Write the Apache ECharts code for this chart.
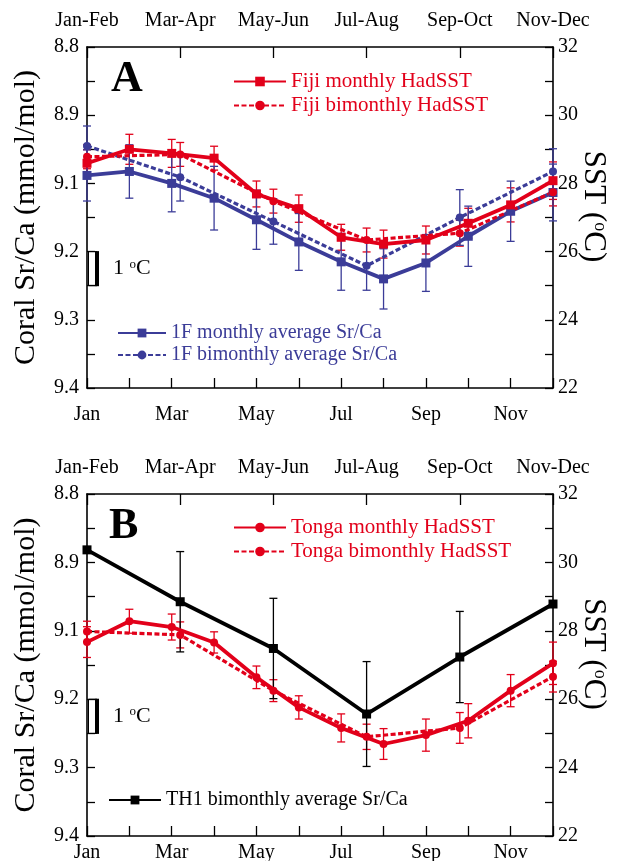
<!DOCTYPE html>
<html><head><meta charset="utf-8">
<script src="https://cdn.jsdelivr.net/npm/echarts@6/dist/echarts.min.js"></script>
<style>html,body{margin:0;padding:0;background:#fff}#c{width:617px;height:861px}</style>
</head><body><div id="c"></div><script>
// ---------- tick labels / categories ----------
const monthTickLabels = ['Jan','Mar','May','Jul','Sep','Nov'];
const bimonthLabels = ['Jan-Feb','Mar-Apr','May-Jun','Jul-Aug','Sep-Oct','Nov-Dec'];
const srcaTickLabels = ['8.8','8.9','9.1','9.2','9.3','9.4'];
const months = [0,1,2,3,4,5,6,7,8,9,10,11];
const bimonths = [0,1,2,3,4,5];

// ---------- Panel A (Fiji / 1F) ----------
const fijiMonthlySST     = [28.59, 29.00, 28.88, 28.74, 27.69, 27.26, 26.42, 26.22, 26.34, 26.83, 27.37, 28.08];
const fijiMonthlySSTErr  = [0.40, 0.44, 0.41, 0.35, 0.38, 0.40, 0.38, 0.41, 0.41, 0.44, 0.50, 0.55];
const fijiBimonthlySST    = [28.78, 28.85, 27.48, 26.34, 26.54, 27.74];
const fijiBimonthlySSTErr = [0.35, 0.35, 0.35, 0.35, 0.38, 0.40];
const f1MonthlySrCa      = [9.026, 9.019, 9.040, 9.066, 9.104, 9.143, 9.178, 9.208, 9.180, 9.133, 9.089, 9.056];
const f1MonthlySrCaErr   = [0.045, 0.047, 0.050, 0.056, 0.052, 0.050, 0.050, 0.053, 0.050, 0.053, 0.053, 0.050];
const f1BimonthlySrCa    = [8.974, 9.029, 9.107, 9.185, 9.100, 9.019];
const f1BimonthlySrCaErr = [0.035, 0.042, 0.040, 0.043, 0.049, 0.040];

// ---------- Panel B (Tonga / TH1) ----------
const tongaMonthlySST     = [27.67, 28.28, 28.11, 27.66, 26.64, 25.76, 25.16, 24.69, 24.95, 25.37, 26.25, 27.05];
const tongaMonthlySSTErr  = [0.45, 0.35, 0.38, 0.31, 0.33, 0.34, 0.41, 0.45, 0.47, 0.50, 0.47, 0.62];
const tongaBimonthlySST    = [27.98, 27.88, 26.25, 24.90, 25.16, 26.66];
const tongaBimonthlySSTErr = [0.30, 0.38, 0.32, 0.37, 0.45, 0.45];
const th1BimonthlySrCa    = [8.898, 8.989, 9.071, 9.186, 9.086, 8.993];
const th1BimonthlySrCaErr = [null, 0.088, 0.088, 0.092, 0.080, null];

// 1 degC scale bar (in SST units)
const scaleBar = [26, 25];

// ---------- styling ----------
const FONT = 'Liberation Serif';
const RED = '#e2001a', BLUE = '#3b3c98', BLACK = '#000000';
const SUP = { o: { fontSize: 13, fontFamily: FONT, verticalAlign: 'top', color: '#000' } };

const pairs = (xs, ys) => xs.map((x, i) => [x, ys[i]]);
const errTriples = (xs, ys, es) => xs.map((x, i) => [x, ys[i], es[i]]).filter(d => d[2] != null);

function lineSeries(name, xi, yi, xs, ys, color, symbol, size, dashed) {
  return {
    name, type: 'line', xAxisIndex: xi, yAxisIndex: yi, data: pairs(xs, ys),
    symbol, symbolSize: size, showSymbol: true, clip: false, z: 4, animation: false,
    lineStyle: { color, width: dashed ? 3.2 : 3.8, type: dashed ? [5, 2.5] : 'solid' },
    itemStyle: { color }, emphasis: { disabled: true }
  };
}
function errSeries(xi, yi, xs, ys, es, color) {
  return {
    type: 'custom', xAxisIndex: xi, yAxisIndex: yi, clip: false, silent: true, z: 3, animation: false,
    data: errTriples(xs, ys, es),
    renderItem(params, api) {
      const x = api.value(0), y = api.value(1), e = api.value(2);
      const t = api.coord([x, y - e]), b = api.coord([x, y + e]);
      const w = 4;
      const st = { stroke: color, lineWidth: 1.3, fill: null };
      return { type: 'group', children: [
        { type: 'line', shape: { x1: t[0], y1: t[1], x2: b[0], y2: b[1] }, style: st },
        { type: 'line', shape: { x1: t[0] - w, y1: t[1], x2: t[0] + w, y2: t[1] }, style: st },
        { type: 'line', shape: { x1: b[0] - w, y1: b[1], x2: b[0] + w, y2: b[1] }, style: st }
      ]};
    }
  };
}
function scaleBarSeries(xi, yi) {
  return {
    type: 'custom', xAxisIndex: xi, yAxisIndex: yi, clip: false, silent: true, z: 5, animation: false,
    data: [[0, scaleBar[0], scaleBar[1]]],
    renderItem(params, api) {
      const a = api.coord([api.value(0), api.value(1)]);
      const b = api.coord([api.value(0), api.value(2)]);
      const x0 = a[0];
      return { type: 'group', children: [
        { type: 'polyline', shape: { points: [[x0 + 10, a[1]], [x0 + 1.5, a[1]], [x0 + 1.5, b[1]], [x0 + 10, b[1]]] },
          style: { stroke: '#000', lineWidth: 1, fill: null } },
        { type: 'line', shape: { x1: x0 + 10, y1: a[1] - 0.5, x2: x0 + 10, y2: b[1] + 0.5 },
          style: { stroke: '#000', lineWidth: 4 } },
        { type: 'text', x: x0 + 26, y: (a[1] + b[1]) / 2,
          style: { text: '1 {o|o}C', font: '22px "Liberation Serif"', fill: '#000', verticalAlign: 'middle', rich: SUP } }
      ]};
    }
  };
}

const axisLineSt = { show: true, onZero: false, lineStyle: { color: '#000', width: 1.6 } };
const tickSt = { color: '#000', width: 1.3 };
const lblSt = { color: '#000', fontFamily: FONT, fontSize: 20 };

function xAxes(p, bottomMargin) {
  return [
    { gridIndex: p, type: 'value', position: 'bottom', min: 0, max: 11, interval: 1,
      axisLine: axisLineSt, splitLine: { show: false },
      axisTick: { show: true, inside: true, length: 10, lineStyle: tickSt },
      axisLabel: Object.assign({ margin: bottomMargin, showMinLabel: true, showMaxLabel: true,
        formatter: v => (v % 2 === 0 ? monthTickLabels[v / 2] : '') }, lblSt) },
    { gridIndex: p, type: 'value', position: 'top', min: 0, max: 5, interval: 1,
      axisLine: axisLineSt, splitLine: { show: false },
      axisTick: { show: true, inside: true, length: 11, lineStyle: tickSt },
      axisLabel: Object.assign({ margin: 16, showMinLabel: true, showMaxLabel: true,
        formatter: v => bimonthLabels[Math.round(v)] }, lblSt) }
  ];
}
function yAxes(p) {
  return [
    { gridIndex: p, type: 'value', position: 'left', inverse: true, min: 8.8, max: 9.4, interval: 0.12,
      axisLine: axisLineSt, splitLine: { show: false },
      axisTick: { show: true, inside: true, length: 8, lineStyle: tickSt },
      minorTick: { show: true, splitNumber: 2, length: 8, lineStyle: tickSt },
      minorSplitLine: { show: false },
      axisLabel: Object.assign({ margin: 8, showMinLabel: true, showMaxLabel: true,
        formatter: v => srcaTickLabels[Math.round((v - 8.8) / 0.12)] }, lblSt),
      name: 'Coral Sr/Ca (mmol/mol)', nameLocation: 'middle', nameGap: 46, nameMoveOverlap: false,
      nameTextStyle: { fontFamily: FONT, fontSize: 30, color: '#000' } },
    { gridIndex: p, type: 'value', position: 'right', min: 22, max: 32, interval: 2,
      axisLine: axisLineSt, splitLine: { show: false },
      axisTick: { show: true, inside: true, length: 8, lineStyle: tickSt },
      minorTick: { show: true, splitNumber: 2, length: 8, lineStyle: tickSt },
      minorSplitLine: { show: false },
      axisLabel: Object.assign({ margin: 5, showMinLabel: true, showMaxLabel: true }, lblSt),
      name: 'SST ({o|o}C)', nameLocation: 'middle', nameRotate: -90, nameGap: 25, nameMoveOverlap: false,
      nameTextStyle: { fontFamily: FONT, fontSize: 31, color: '#000', padding: [0, 22, 0, 0],
        rich: { o: { fontSize: 18, fontFamily: FONT, verticalAlign: 'top', color: '#000' } } } }
  ];
}

const legendBase = { orient: 'vertical', selectedMode: false, itemGap: 3 };

const option = {
  animation: false,
  backgroundColor: '#ffffff',
  textStyle: { fontFamily: FONT },
  grid: [
    { left: 87, top: 47, width: 466, height: 341, outerBoundsMode: 'none', containLabel: false },
    { left: 87, top: 494, width: 466, height: 342, outerBoundsMode: 'none', containLabel: false }
  ],
  xAxis: [].concat(xAxes(0, 17), xAxes(1, 7)),
  yAxis: [].concat(yAxes(0), yAxes(1)),
  legend: [
    Object.assign({}, legendBase, { left: 228, top: 66, itemWidth: 52, itemHeight: 12,
      data: ['Fiji monthly HadSST', 'Fiji bimonthly HadSST'],
      textStyle: { color: RED, fontFamily: FONT, fontSize: 21, lineHeight: 20 } }),
    Object.assign({}, legendBase, { left: 112, top: 318, itemWidth: 48, itemHeight: 11, itemGap: 2,
      data: ['1F monthly average Sr/Ca', '1F bimonthly average Sr/Ca'],
      textStyle: { color: BLUE, fontFamily: FONT, fontSize: 20, lineHeight: 20 } }),
    Object.assign({}, legendBase, { left: 228, top: 512, itemWidth: 52, itemHeight: 12,
      data: ['Tonga monthly HadSST', 'Tonga bimonthly HadSST'],
      textStyle: { color: RED, fontFamily: FONT, fontSize: 21, lineHeight: 20 } }),
    Object.assign({}, legendBase, { left: 103, top: 785, itemWidth: 52, itemHeight: 11,
      data: ['TH1 bimonthly average Sr/Ca'],
      textStyle: { color: BLACK, fontFamily: FONT, fontSize: 20, lineHeight: 20 } })
  ],
  graphic: [
    { type: 'text', left: 111, top: 58, style: { text: 'A', font: 'bold 44px "Liberation Serif"', fill: '#000' } },
    { type: 'text', left: 109, top: 505, style: { text: 'B', font: 'bold 44px "Liberation Serif"', fill: '#000' } }
  ],
  series: [
    // Panel A
    errSeries(0, 1, months, fijiMonthlySST, fijiMonthlySSTErr, RED),
    errSeries(1, 1, bimonths, fijiBimonthlySST, fijiBimonthlySSTErr, RED),
    errSeries(0, 0, months, f1MonthlySrCa, f1MonthlySrCaErr, BLUE),
    errSeries(1, 0, bimonths, f1BimonthlySrCa, f1BimonthlySrCaErr, BLUE),
    lineSeries('1F monthly average Sr/Ca', 0, 0, months, f1MonthlySrCa, BLUE, 'rect', 9, false),
    lineSeries('1F bimonthly average Sr/Ca', 1, 0, bimonths, f1BimonthlySrCa, BLUE, 'circle', 8, true),
    lineSeries('Fiji monthly HadSST', 0, 1, months, fijiMonthlySST, RED, 'rect', 9, false),
    lineSeries('Fiji bimonthly HadSST', 1, 1, bimonths, fijiBimonthlySST, RED, 'circle', 8, true),
    scaleBarSeries(0, 1),
    // Panel B
    errSeries(2, 3, months, tongaMonthlySST, tongaMonthlySSTErr, RED),
    errSeries(3, 3, bimonths, tongaBimonthlySST, tongaBimonthlySSTErr, RED),
    errSeries(3, 2, bimonths, th1BimonthlySrCa, th1BimonthlySrCaErr, BLACK),
    lineSeries('TH1 bimonthly average Sr/Ca', 3, 2, bimonths, th1BimonthlySrCa, BLACK, 'rect', 9, false),
    lineSeries('Tonga monthly HadSST', 2, 3, months, tongaMonthlySST, RED, 'circle', 8, false),
    lineSeries('Tonga bimonthly HadSST', 3, 3, bimonths, tongaBimonthlySST, RED, 'circle', 8, true),
    scaleBarSeries(2, 3)
  ]
};
const chart = echarts.init(document.getElementById('c'), null, { renderer: 'canvas' });
chart.setOption(option);
</script></body></html>
